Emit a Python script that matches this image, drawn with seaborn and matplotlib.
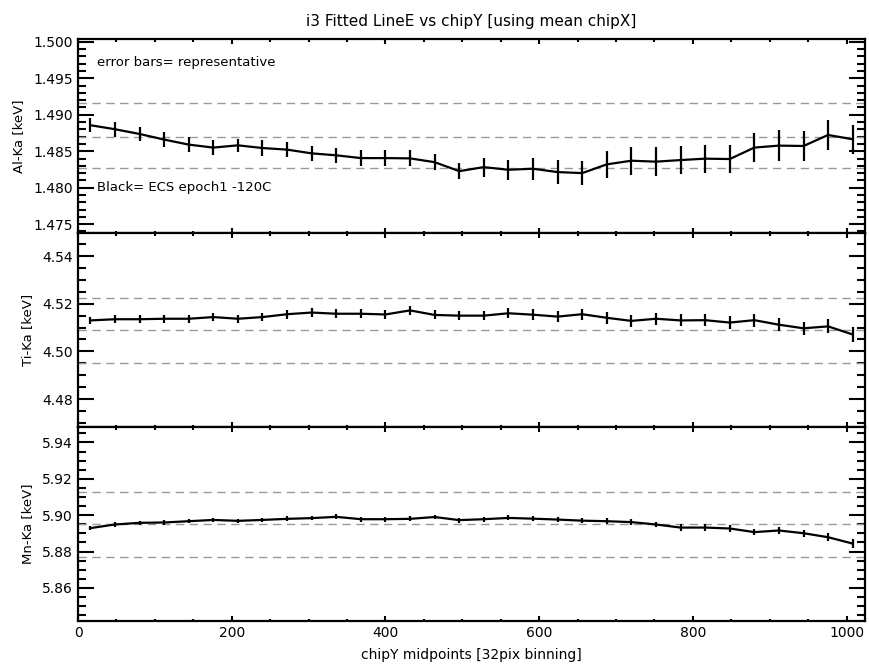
import matplotlib
matplotlib.use("Agg")
import matplotlib.pyplot as plt
from matplotlib.ticker import MultipleLocator
import numpy as np
import pandas as pd
import seaborn as sns

# chipY bin midpoints (32 pix binning)
chipy = [16, 48, 80, 112, 144, 176, 208, 240, 272, 304, 336, 368, 400, 432, 464, 496,
         528, 560, 592, 624, 656, 688, 720, 752, 784, 816, 848, 880, 912, 944, 976, 1008]

al_ka = [1.48857, 1.48802, 1.48737, 1.48660, 1.48591, 1.48550, 1.48581, 1.48544,
         1.48522, 1.48471, 1.48444, 1.48406, 1.48406, 1.48402, 1.48350, 1.48227,
         1.48282, 1.48246, 1.48260, 1.48214, 1.48200, 1.48320, 1.48370, 1.48357,
         1.48379, 1.48398, 1.48393, 1.48550, 1.48577, 1.48572, 1.48723, 1.48664]
al_err = [0.0010, 0.0010, 0.0009, 0.0010, 0.0010, 0.0010, 0.0009, 0.0011,
          0.0010, 0.0010, 0.0010, 0.0011, 0.0011, 0.0011, 0.0011, 0.0011,
          0.0013, 0.0014, 0.0015, 0.0016, 0.0017, 0.0019, 0.0019, 0.0020,
          0.0019, 0.0019, 0.0019, 0.0020, 0.0021, 0.0020, 0.0020, 0.0020]

ti_ka = [4.5130, 4.5135, 4.5135, 4.5137, 4.5137, 4.5144, 4.5137, 4.5144,
         4.5156, 4.5163, 4.5158, 4.5158, 4.5155, 4.5172, 4.5153, 4.5150,
         4.5150, 4.5160, 4.5154, 4.5146, 4.5156, 4.5141, 4.5128, 4.5137,
         4.5130, 4.5131, 4.5121, 4.5131, 4.5112, 4.5097, 4.5105, 4.5071]
ti_err = [0.0016, 0.0016, 0.0016, 0.0016, 0.0016, 0.0017, 0.0017, 0.0018,
          0.0018, 0.0019, 0.0019, 0.0019, 0.0018, 0.0019, 0.0019, 0.0020,
          0.0020, 0.0021, 0.0022, 0.0023, 0.0023, 0.0024, 0.0025, 0.0025,
          0.0025, 0.0026, 0.0026, 0.0027, 0.0028, 0.0028, 0.0029, 0.0030]

mn_ka = [5.8929, 5.8949, 5.8958, 5.8960, 5.8967, 5.8974, 5.8969, 5.8974,
         5.8980, 5.8984, 5.8991, 5.8978, 5.8978, 5.8980, 5.8990, 5.8973,
         5.8978, 5.8985, 5.8981, 5.8976, 5.8970, 5.8967, 5.8962, 5.8949,
         5.8932, 5.8932, 5.8927, 5.8907, 5.8916, 5.8901, 5.8879, 5.8844]
mn_err = [0.0012, 0.0012, 0.0012, 0.0012, 0.0012, 0.0012, 0.0012, 0.0012,
          0.0013, 0.0013, 0.0013, 0.0013, 0.0013, 0.0013, 0.0013, 0.0014,
          0.0014, 0.0014, 0.0014, 0.0014, 0.0015, 0.0015, 0.0016, 0.0016,
          0.0017, 0.0017, 0.0018, 0.0018, 0.0019, 0.0020, 0.0022, 0.0026]

# reference levels (dashed): nominal line energy and +/-0.3%
al_ref = [1.4827, 1.4870, 1.4916]
ti_ref = [4.4952, 4.5091, 4.5225]
mn_ref = [5.8772, 5.8951, 5.9128]

ylabels = ["Al-Ka [keV]", "Ti-Ka [keV]", "Mn-Ka [keV]"]
ylims = [(1.4738, 1.5004), (4.4684, 4.5497), (5.842, 5.9486)]
ymajor = [0.005, 0.02, 0.02]
yminor = [0.001, 0.005, 0.005]
yfmt = ["%.3f", "%.2f", "%.2f"]

sns.set_style("ticks")
plt.rcParams["font.family"] = ["DejaVu Sans"]
plt.rcParams["text.color"] = "black"
plt.rcParams["axes.labelcolor"] = "black"

fig = plt.figure(figsize=(8.69, 6.65), dpi=100)
gs = fig.add_gridspec(3, 1, left=0.0898, right=0.9954, top=0.9414, bottom=0.0666, hspace=0)
axes = [fig.add_subplot(gs[i]) for i in range(3)]

series = [(al_ka, al_err, al_ref), (ti_ka, ti_err, ti_ref), (mn_ka, mn_err, mn_ref)]

for i, (ax, (vals, errs, refs)) in enumerate(zip(axes, series)):
    df = pd.DataFrame({"chipY": chipy, "E": vals, "err": errs})
    for r in refs:
        ax.axhline(r, color="#999999", lw=1.0, ls=(0, (6, 4)), zorder=1)
    sns.lineplot(data=df, x="chipY", y="E", ax=ax, color="black", lw=1.6, zorder=3)
    ax.errorbar(df["chipY"], df["E"], yerr=df["err"], fmt="none", ecolor="black",
                elinewidth=1.6, capsize=0, zorder=3)
    ax.set_xlim(0, 1024)
    ax.set_ylim(*ylims[i])
    ax.xaxis.set_major_locator(MultipleLocator(200))
    ax.xaxis.set_minor_locator(MultipleLocator(50))
    ax.yaxis.set_major_locator(MultipleLocator(ymajor[i]))
    ax.yaxis.set_minor_locator(MultipleLocator(yminor[i]))
    ax.yaxis.set_major_formatter(plt.FormatStrFormatter(yfmt[i]))
    ax.tick_params(which="both", direction="in", top=True, right=True, width=1.5,
                   labelsize=10, colors="black")
    ax.tick_params(axis="y", which="major", length=11.5)
    ax.tick_params(axis="y", which="minor", length=5.8)
    ax.tick_params(axis="x", which="major", length=3.5)
    ax.tick_params(axis="x", which="minor", length=1.8)
    for sp in ax.spines.values():
        sp.set_linewidth(1.6)
        sp.set_color("black")
    ax.set_ylabel(ylabels[i], fontsize=9.5, labelpad=6, color="black")
    ax.set_xlabel("")
    if i < 2:
        ax.tick_params(axis="x", labelbottom=False)

axes[0].text(0.024, 0.88, "error bars= representative", transform=axes[0].transAxes,
             fontsize=9.5, va="center", color="black")
axes[0].text(0.024, 0.236, "Black= ECS epoch1 -120C", transform=axes[0].transAxes,
             fontsize=9.5, va="center", color="black")

axes[2].set_xlabel("chipY midpoints [32pix binning]", fontsize=10, labelpad=6, color="black")
axes[0].set_title("i3 Fitted LineE vs chipY [using mean chipX]", fontsize=11, pad=9,
                  color="black")

fig.savefig("out.png", dpi=100)
